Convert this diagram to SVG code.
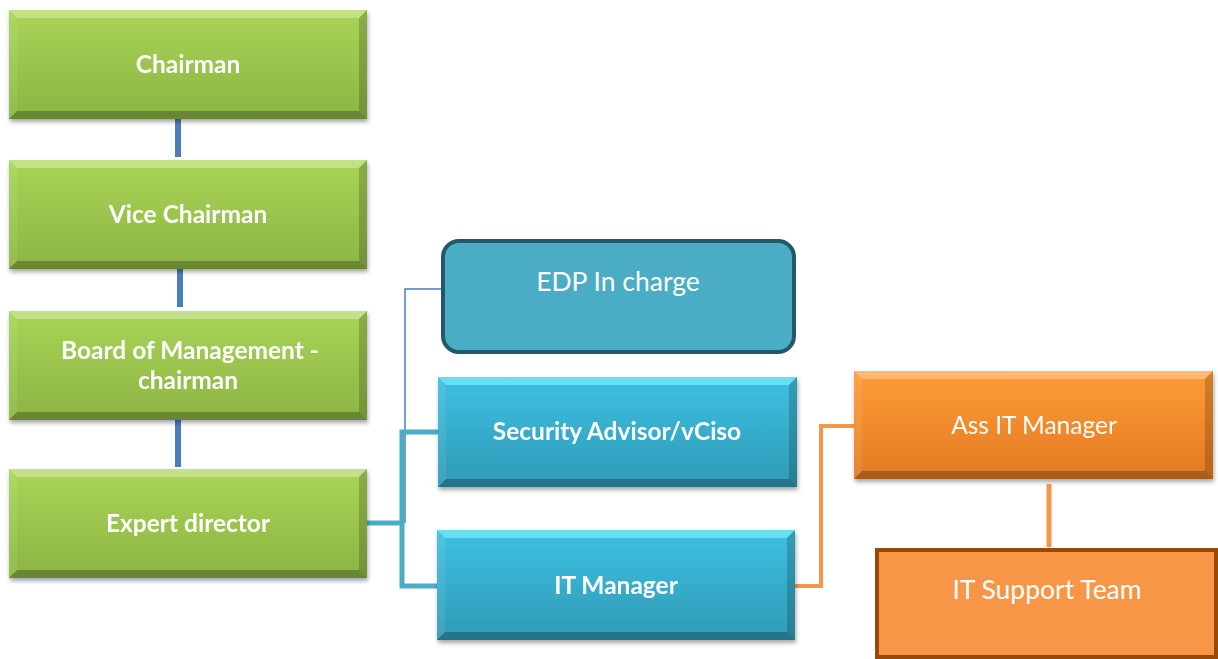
<svg xmlns="http://www.w3.org/2000/svg" xmlns:xlink="http://www.w3.org/1999/xlink" width="1218" height="659" viewBox="0 0 1218 659">
<style>
.t{font-family:Lato,"Liberation Sans",sans-serif;fill:#fff;text-anchor:middle}
.b{font-weight:bold;font-size:24.5px}
.r{font-size:26.5px}
.bl{stroke:#4A7EBB;stroke-width:6;fill:none}
.tl{stroke:#4BACC6;stroke-width:5;fill:none}
.ol{stroke:#F79646;stroke-width:4;fill:none}
</style>
<defs>
<linearGradient id="gg" x1="0" y1="0" x2="0" y2="1"><stop offset="0" stop-color="#A9D557"/><stop offset="1" stop-color="#8CB443"/></linearGradient>
<linearGradient id="bg" x1="0" y1="0" x2="0" y2="1"><stop offset="0" stop-color="#3EC0E2"/><stop offset="1" stop-color="#2F9AB6"/></linearGradient>
<linearGradient id="og" x1="0" y1="0" x2="0" y2="1"><stop offset="0" stop-color="#FF9C36"/><stop offset="1" stop-color="#E27A22"/></linearGradient>
<filter id="sh" x="-5%" y="-5%" width="112%" height="120%"><feDropShadow dx="1" dy="3" stdDeviation="2" flood-color="#000" flood-opacity="0.35"/></filter>
<g id="bev">
<polygon points="0,0 358,0 350,8 8,8" fill="#fff" opacity="0.3"/>
<polygon points="0,109 358,109 350,101 8,101" fill="#000" opacity="0.25"/>
<polygon points="0,0 8,8 8,101 0,109" fill="#fff" opacity="0.08"/>
<polygon points="358,0 358,109 350,101 350,8" fill="#000" opacity="0.18"/>
</g>
<symbol id="gbox" viewBox="0 0 358 109" width="358" height="109" overflow="visible"><rect width="358" height="109" fill="url(#gg)"/><use xlink:href="#bev"/></symbol>
<symbol id="bbox" viewBox="0 0 358 109" width="358" height="109" overflow="visible" preserveAspectRatio="none"><rect width="358" height="109" fill="url(#bg)"/><polygon points="0,0 358,0 350,8 8,8" fill="#7FE8FF" opacity="0.7"/><polygon points="0,109 358,109 350,101 8,101" fill="#000" opacity="0.25"/><polygon points="0,0 8,8 8,101 0,109" fill="#fff" opacity="0.08"/><polygon points="358,0 358,109 350,101 350,8" fill="#000" opacity="0.18"/></symbol>
<symbol id="obox" viewBox="0 0 358 109" width="358" height="109" overflow="visible" preserveAspectRatio="none"><rect width="358" height="109" fill="url(#og)"/><use xlink:href="#bev"/></symbol>
</defs>
<rect width="1218" height="659" fill="#fff"/>
<g id="connectors">
<line class="bl" x1="178" y1="118" x2="178" y2="157"/>
<line class="bl" x1="180" y1="260" x2="180" y2="307"/>
<line class="bl" x1="178" y1="420" x2="178" y2="467"/>
<polyline points="405,523 405,289 446,289" fill="none" stroke="#4A7EBB" stroke-width="1.5"/>
<polyline class="tl" points="366,523 403,523"/>
<polyline class="tl" points="440,432 402,432 402,586 440,586"/>
<polyline class="ol" points="795,586 821,586 821,426 856,426"/>
<line x1="1049" y1="484" x2="1049" y2="547" stroke="#F79646" stroke-width="5"/>
</g>
<g id="chairman" filter="url(#sh)"><use xlink:href="#gbox" x="9" y="10"/><text class="t b" x="188" y="73">Chairman</text></g>
<g id="vice-chairman" filter="url(#sh)"><use xlink:href="#gbox" x="9" y="160"/><text class="t b" x="188" y="223">Vice Chairman</text></g>
<g id="board" filter="url(#sh)"><use xlink:href="#gbox" x="9" y="311"/><text class="t b" x="190" y="359">Board of Management -</text><text class="t b" x="188" y="389">chairman</text></g>
<g id="expert-director" filter="url(#sh)"><use xlink:href="#gbox" x="9" y="469"/><text class="t b" x="188" y="532">Expert director</text></g>
<g id="edp"><rect x="443" y="241" width="351" height="111" rx="16" fill="#4BACC6" stroke="#215968" stroke-width="4"/><text class="t r" x="618" y="291">EDP In charge</text></g>
<g id="security" filter="url(#sh)"><use xlink:href="#bbox" x="438" y="377" width="359" height="110"/><text class="t b" x="617" y="440">Security Advisor/vCiso</text></g>
<g id="it-manager" filter="url(#sh)"><use xlink:href="#bbox" x="437" y="530" width="358" height="110"/><text class="t b" x="616" y="594">IT Manager</text></g>
<g id="ass-it-manager" filter="url(#sh)"><use xlink:href="#obox" x="854" y="371" width="359" height="108"/><text class="t" style="font-size:24.5px" x="1034" y="434">Ass IT Manager</text></g>
<g id="it-support"><rect x="877" y="550" width="339" height="107" fill="#F79646" stroke="#984807" stroke-width="4"/><text class="t r" x="1047" y="599">IT Support Team</text></g>
</svg>
